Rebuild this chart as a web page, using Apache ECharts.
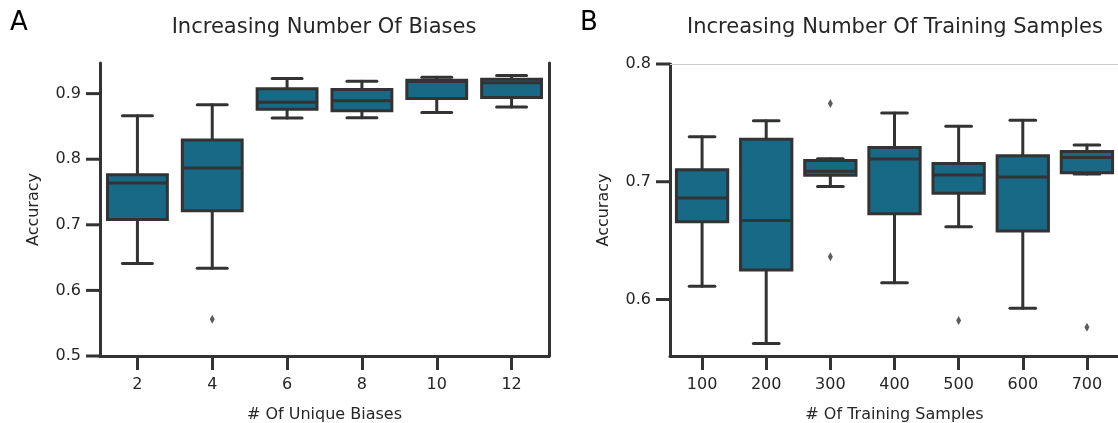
<!DOCTYPE html>
<html>
<head>
<meta charset="utf-8">
<script src="https://cdn.jsdelivr.net/npm/echarts@6/dist/echarts.min.js"></script>
<style>
html,body{margin:0;padding:0;background:#fff;}
#chart{width:1118px;height:423px;}
</style>
</head>
<body>
<div id="chart"></div>
<script>
// ---- Data ----
const leftCategories = ['2', '4', '6', '8', '10', '12'];
// [min whisker, Q1, median, Q3, max whisker]
const leftStats = [
  [0.641, 0.708, 0.7637, 0.7764, 0.8664],
  [0.6336, 0.7215, 0.7866, 0.8293, 0.8831],
  [0.8628, 0.8761, 0.8870, 0.9076, 0.9229],
  [0.8634, 0.8740, 0.8890, 0.9063, 0.9190],
  [0.8712, 0.8924, 0.9185, 0.9203, 0.9250],
  [0.8795, 0.8940, 0.9165, 0.9220, 0.9275]
];
const leftOutliers = [['4', 0.5559]];
const leftYTicks = [0.5, 0.6, 0.7, 0.8, 0.9];

const rightCategories = ['100', '200', '300', '400', '500', '600', '700'];
const rightStats = [
  [0.6113, 0.6661, 0.6862, 0.7101, 0.7382],
  [0.5626, 0.6250, 0.6670, 0.7360, 0.7519],
  [0.6960, 0.7055, 0.7090, 0.7180, 0.7195],
  [0.6142, 0.6729, 0.7194, 0.7291, 0.7583],
  [0.6618, 0.6902, 0.7058, 0.7155, 0.7472],
  [0.5926, 0.6582, 0.7041, 0.7220, 0.7523],
  [0.7066, 0.7076, 0.7205, 0.7256, 0.7311]
];
const rightOutliers = [['300', 0.7665], ['300', 0.6363], ['500', 0.5821], ['700', 0.5765]];
const rightYTicks = [0.6, 0.7, 0.8];

const titles = ['Increasing Number Of Biases', 'Increasing Number Of Training Samples'];
const panelLetters = ['A', 'B'];
const xNames = ['# Of Unique Biases', '# Of Training Samples'];
const yName = 'Accuracy';

// ---- Style ----
const FONT = 'DejaVu Sans';
const TXT = '#262626';
const EDGE = '#333333';
const FILL = '#186985';
const LW = 3;
const TICK_LEN = 14;
const FS = 16;

const GRIDS = [
  {left: 100, top: 63, width: 449, height: 293, outerBoundsMode: 'none', containLabel: false},
  {left: 670, top: 64, width: 449, height: 292, outerBoundsMode: 'none', containLabel: false}
];

function renderBox(params, api) {
  const x = api.value(0);
  const vmin = api.value(1), q1 = api.value(2), med = api.value(3), q3 = api.value(4), vmax = api.value(5);
  const pMin = api.coord([x, vmin]);
  const pQ1 = api.coord([x, q1]);
  const pMed = api.coord([x, med]);
  const pQ3 = api.coord([x, q3]);
  const pMax = api.coord([x, vmax]);
  const band = api.size([1, 0])[0];
  const bw = band * 0.8;
  const cw = bw * 0.5;
  const cx = pMed[0];
  const lineStyle = {stroke: EDGE, lineWidth: LW, lineCap: 'round', fill: null};
  return {
    type: 'group',
    children: [
      {type: 'line', shape: {x1: cx, y1: pQ3[1], x2: cx, y2: pMax[1]}, style: lineStyle},
      {type: 'line', shape: {x1: cx, y1: pQ1[1], x2: cx, y2: pMin[1]}, style: lineStyle},
      {type: 'line', shape: {x1: cx - cw / 2, y1: pMax[1], x2: cx + cw / 2, y2: pMax[1]}, style: lineStyle},
      {type: 'line', shape: {x1: cx - cw / 2, y1: pMin[1], x2: cx + cw / 2, y2: pMin[1]}, style: lineStyle},
      {type: 'rect', shape: {x: cx - bw / 2, y: pQ3[1], width: bw, height: pQ1[1] - pQ3[1]},
        style: {fill: FILL, stroke: EDGE, lineWidth: LW}},
      {type: 'line', shape: {x1: cx - bw / 2, y1: pMed[1], x2: cx + bw / 2, y2: pMed[1]},
        style: {stroke: EDGE, lineWidth: LW, fill: null}}
    ]
  };
}

// y-axis tick marks placed through the value axis scale
function renderYTick(params, api) {
  const cs = params.coordSys;
  const p = api.coord([0, api.value(0)]);
  return {
    type: 'line',
    shape: {x1: cs.x - TICK_LEN, y1: p[1], x2: cs.x, y2: p[1]},
    style: {stroke: EDGE, lineWidth: LW, fill: null}
  };
}

function xAxisFor(i, cats) {
  return {
    type: 'category', gridIndex: i, data: cats, position: 'bottom',
    axisLine: {show: true, lineStyle: {color: EDGE, width: LW}},
    axisTick: {show: true, alignWithLabel: true, length: TICK_LEN, lineStyle: {color: EDGE, width: LW}},
    axisLabel: {color: TXT, fontFamily: FONT, fontSize: FS, margin: 21},
    name: xNames[i], nameLocation: 'middle', nameGap: 51,
    nameTextStyle: {color: TXT, fontFamily: FONT, fontSize: FS},
    splitLine: {show: false}
  };
}
function yAxisFor(i, min, max, ticks) {
  return {
    type: 'value', gridIndex: i, min: min, max: max, position: 'left',
    axisLine: {show: true, lineStyle: {color: EDGE, width: LW}},
    axisTick: {show: false},
    axisLabel: {color: TXT, fontFamily: FONT, fontSize: FS, margin: 19, customValues: ticks,
      formatter: v => v.toFixed(1)},
    name: yName, nameLocation: 'middle', nameGap: 58,
    nameTextStyle: {color: TXT, fontFamily: FONT, fontSize: FS},
    splitLine: {show: false}
  };
}
function rightSpine(i, min, max) {
  return {
    type: 'value', gridIndex: i, min: min, max: max, position: 'right',
    axisLine: {show: true, lineStyle: {color: EDGE, width: LW}},
    axisTick: {show: false}, axisLabel: {show: false}, splitLine: {show: false}
  };
}

const option = {
  animation: false,
  backgroundColor: '#ffffff',
  grid: GRIDS,
  graphic: [
    {type: 'text', x: 10, y: 10, style: {text: panelLetters[0], font: '26px "DejaVu Sans"', fill: '#000'}},
    {type: 'text', x: 580, y: 10, style: {text: panelLetters[1], font: '26px "DejaVu Sans"', fill: '#000'}},
    {type: 'text', x: 324, y: 28, style: {text: titles[0], font: '21px "DejaVu Sans"', fill: TXT, textAlign: 'center', textVerticalAlign: 'middle'}},
    {type: 'text', x: 895, y: 28, style: {text: titles[1], font: '21px "DejaVu Sans"', fill: TXT, textAlign: 'center', textVerticalAlign: 'middle'}}
  ],
  xAxis: [
    xAxisFor(0, leftCategories),
    xAxisFor(1, rightCategories),
    {type: 'category', gridIndex: 1, data: rightCategories, position: 'top',
      axisLine: {show: true, lineStyle: {color: '#cccccc', width: 1}},
      axisTick: {show: false}, axisLabel: {show: false}, splitLine: {show: false}}
  ],
  yAxis: [
    yAxisFor(0, 0.5, 0.9467, leftYTicks),
    yAxisFor(1, 0.552, 0.8, rightYTicks),
    rightSpine(0, 0.5, 0.9467),
    rightSpine(1, 0.552, 0.8)
  ],
  series: [
    {type: 'custom', xAxisIndex: 0, yAxisIndex: 0, renderItem: renderYTick, clip: false,
      data: leftYTicks.map(v => [v]), encode: {y: 0}, z: 5, silent: true},
    {type: 'custom', xAxisIndex: 1, yAxisIndex: 1, renderItem: renderYTick, clip: false,
      data: rightYTicks.map(v => [v]), encode: {y: 0}, z: 5, silent: true},
    {type: 'custom', xAxisIndex: 0, yAxisIndex: 0, renderItem: renderBox,
      data: leftStats.map((s, i) => [i].concat(s)), z: 3},
    {type: 'custom', xAxisIndex: 1, yAxisIndex: 1, renderItem: renderBox,
      data: rightStats.map((s, i) => [i].concat(s)), z: 3},
    {type: 'scatter', xAxisIndex: 0, yAxisIndex: 0, symbol: 'diamond', symbolSize: [5, 9],
      itemStyle: {color: EDGE}, data: leftOutliers, z: 4},
    {type: 'scatter', xAxisIndex: 1, yAxisIndex: 1, symbol: 'diamond', symbolSize: [5, 9],
      itemStyle: {color: EDGE}, data: rightOutliers, z: 4}
  ]
};

const chart = echarts.init(document.getElementById('chart'), null, {renderer: 'canvas'});
chart.setOption(option);
</script>
</body>
</html>
